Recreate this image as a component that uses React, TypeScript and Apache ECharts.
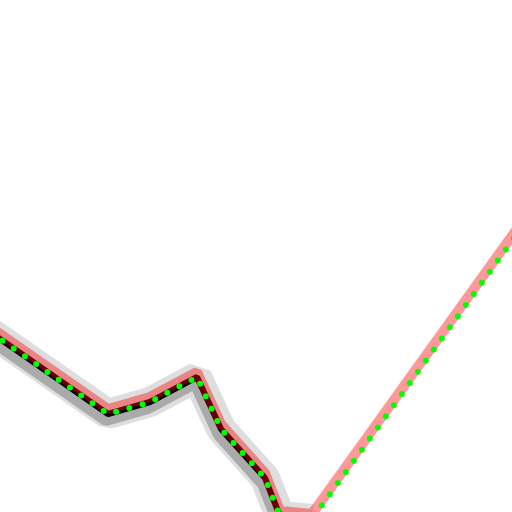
import React, { useEffect, useRef } from "react";
import * as echarts from "echarts";

// Path vertices (x, y); y grows downwards.
const leftX = [-20, 108, 150, 197, 221, 265, 280, 312];
const leftY = [325, 414, 402, 377, 429, 478, 516, 519];
const rightX = [312, 532];
const rightY = [519, 213];

const pairs = (xs: number[], ys: number[]) => xs.map((x, i) => [x, ys[i]]);

export default function App() {
  const ref = useRef<HTMLDivElement>(null);
  useEffect(() => {
    if (!ref.current) return;
    const chart = echarts.init(ref.current, undefined, { renderer: "svg" });
    const leftData = pairs(leftX, leftY);
    const fullData = pairs(leftX.concat(rightX.slice(1)), leftY.concat(rightY.slice(1)));
    chart.setOption({
      animation: false,
      grid: { left: 0, right: 0, top: 0, bottom: 0 },
      xAxis: [
        { type: "value", min: 0, max: 512, show: false },
        { type: "value", min: 2, max: 514, show: false },
      ],
      yAxis: [
        { type: "value", min: 0, max: 512, inverse: true, show: false },
        { type: "value", min: 5, max: 517, inverse: true, show: false },
        { type: "value", min: -6, max: 506, inverse: true, show: false },
      ],
      series: [
        {
          type: "line",
          data: leftData,
          showSymbol: false,
          lineStyle: { color: "#dedede", width: 30 },
        },
        {
          type: "line",
          data: leftData,
          xAxisIndex: 1,
          yAxisIndex: 2,
          showSymbol: false,
          lineStyle: { color: "#aaaaaa", width: 12 },
        },
        {
          type: "line",
          data: leftData,
          showSymbol: false,
          lineStyle: { color: "#000000", width: 6 },
        },
        {
          type: "line",
          data: fullData,
          yAxisIndex: 1,
          showSymbol: false,
          lineStyle: { color: "rgba(255,0,0,0.4)", width: 10 },
        },
        {
          type: "line",
          data: fullData,
          showSymbol: false,
          lineStyle: { color: "#00ff00", width: 6, type: [0, 13.7], cap: "round" },
        },
      ],
    });
    return () => chart.dispose();
  }, []);
  return (
    <div
      ref={ref}
      style={{ position: "absolute", left: 0, top: 0, width: 512, height: 512 }}
    />
  );
}
